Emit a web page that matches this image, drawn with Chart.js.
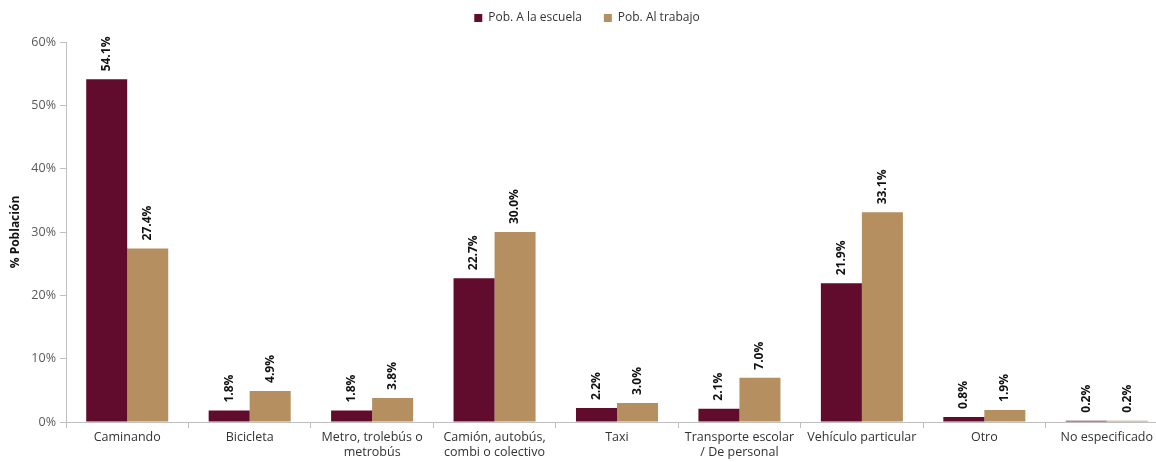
<!DOCTYPE html>
<html>
<head>
<meta charset="utf-8">
<script src="https://cdn.jsdelivr.net/npm/chart.js@4"></script>
<style>
html,body{margin:0;padding:0;background:#fff;overflow:hidden;}
#wrap{width:1172px;height:462px;position:relative;}
</style>
</head>
<body>
<div id="wrap"><canvas id="c"></canvas></div>
<script>
const categories = [
  "Caminando",
  "Bicicleta",
  ["Metro, trolebús o", "metrobús"],
  ["Camión, autobús,", "combi o colectivo"],
  "Taxi",
  ["Transporte escolar", "/ De personal"],
  "Vehículo particular",
  "Otro",
  "No especificado"
];
const escuela = [54.1, 1.8, 1.8, 22.7, 2.2, 2.1, 21.9, 0.8, 0.2];
const trabajo = [27.4, 4.9, 3.8, 30.0, 3.0, 7.0, 33.1, 1.9, 0.2];
const seriesNames = ["Pob. A la escuela", "Pob. Al trabajo"];
const yTicks = [0, 10, 20, 30, 40, 50, 60];

const FONT = "'Open Sans', 'DejaVu Sans', sans-serif";

const labelPlugin = {
  id: 'vlabels',
  afterInit(chart) {
    if (chart.legend) {
      const orig = chart.legend.fit;
      chart.legend.fit = function () { orig.call(this); this.height += 8; };
    }
  },
  afterDatasetsDraw(chart) {
    const ctx = chart.ctx;
    ctx.save();
    ctx.font = "bold 12px " + FONT;
    ctx.fillStyle = "#111";
    chart.data.datasets.forEach((ds, di) => {
      const meta = chart.getDatasetMeta(di);
      meta.data.forEach((el, i) => {
        ctx.save();
        ctx.translate(el.x, el.y - 8);
        ctx.rotate(-Math.PI / 2);
        ctx.textAlign = 'left';
        ctx.textBaseline = 'middle';
        ctx.fillText(ds.data[i].toFixed(1) + '%', 0, 0);
        ctx.restore();
      });
    });
    ctx.restore();
  }
};

new Chart(document.getElementById('c'), {
  type: 'bar',
  data: {
    labels: categories,
    datasets: [
      { label: seriesNames[0], data: escuela, backgroundColor: '#620c2d' },
      { label: seriesNames[1], data: trabajo, backgroundColor: '#b58f5f' }
    ]
  },
  options: {
    responsive: true,
    maintainAspectRatio: false,
    animation: false,
    layout: { padding: { left: 6, right: 4, top: -10, bottom: 0 } },
    datasets: { bar: { categoryPercentage: 0.67, barPercentage: 1.0 } },
    plugins: {
      legend: {
        position: 'top',
        labels: {
          boxWidth: 8, boxHeight: 8, color: '#333',
          font: { family: FONT, size: 12 },
          padding: 22
        }
      },
      tooltip: { enabled: false }
    },
    scales: {
      x: {
        grid: { display: true, drawOnChartArea: false, drawTicks: true, tickLength: 6, color: '#bfbfbf', offset: true },
        border: { display: true, color: '#bfbfbf' },
        ticks: { color: '#333', font: { family: FONT, size: 12.5 }, maxRotation: 0, autoSkip: false, padding: 2 }
      },
      y: {
        min: 0, max: 60,
        afterBuildTicks(scale) { scale.ticks = yTicks.map(v => ({ value: v })); },
        afterFit(scale) { scale.width = 60; },
        grid: { display: true, drawOnChartArea: false, drawTicks: true, tickLength: 6, color: '#bfbfbf' },
        border: { display: true, color: '#bfbfbf' },
        ticks: { color: '#595959', font: { family: FONT, size: 12.5 }, padding: 4, callback: v => v + '%' },
        title: { display: true, text: '% Población', color: '#111', font: { family: FONT, size: 12, weight: 'bold' }, padding: 2 }
      }
    }
  },
  plugins: [labelPlugin]
});
</script>
</body>
</html>
